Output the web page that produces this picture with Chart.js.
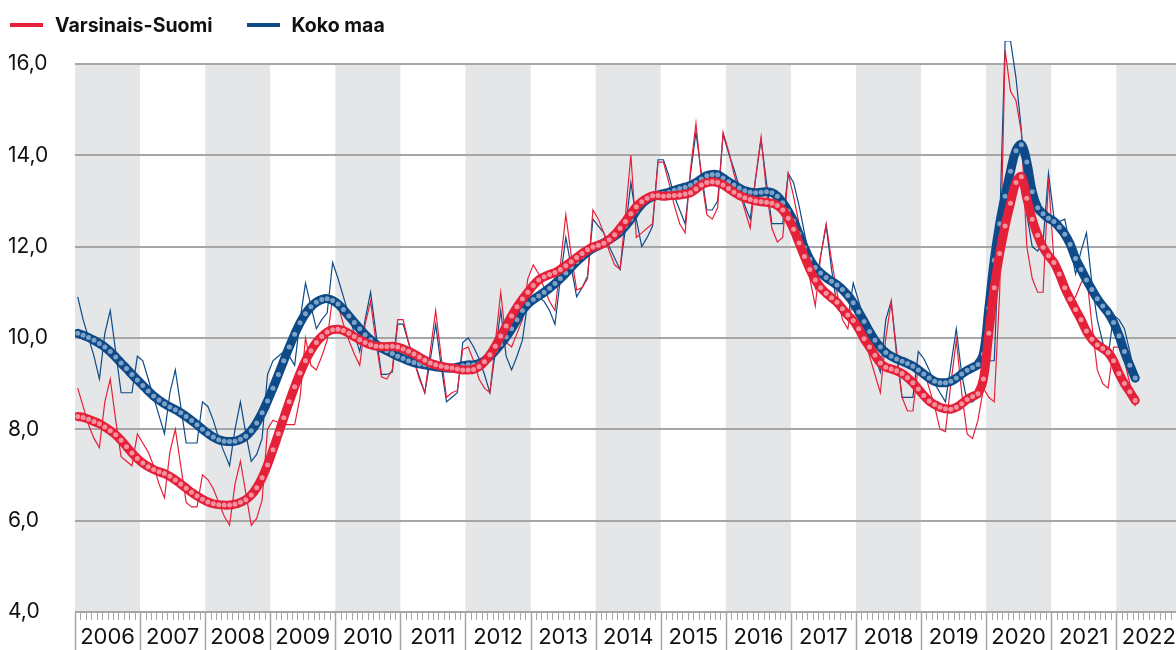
<!DOCTYPE html>
<html>
<head>
<meta charset="utf-8">
<script src="https://cdn.jsdelivr.net/npm/chart.js@4.4.1/dist/chart.umd.min.js"></script>
<style>
  html, body { margin: 0; padding: 0; background: #fff; overflow: hidden; }
  #wrap { position: relative; width: 1188px; height: 650px; }
  #legend { position: absolute; left: 10px; top: 13px; display: flex; align-items: center;
            white-space: nowrap; font: bold 19.5px Inter, "Liberation Sans", sans-serif; color: #111; }
  .item { display: flex; align-items: center; margin-right: 34px; }
  .swatch { display: inline-block; flex: 0 0 33px; width: 33px; height: 4px; margin-right: 12px; }
</style>
</head>
<body>
<div id="wrap">
  <canvas id="chart" width="1188" height="650"></canvas>
  <div id="legend"></div>
</div>
<script>
// monthly data, Jan 2006 .. Apr 2022
const years = ['2006','2007','2008','2009','2010','2011','2012','2013','2014',
               '2015','2016','2017','2018','2019','2020','2021','2022'];
const yTicks = [4, 6, 8, 10, 12, 14, 16];

// Varsinais-Suomi, monthly
const vsRaw = [
  8.9, 8.5, 8.1, 7.8, 7.6, 8.6, 9.1, 8.2, 7.4, 7.3, 7.2, 7.9,
  7.7, 7.5, 7.2, 6.8, 6.5, 7.5, 8.0, 7.2, 6.4, 6.3, 6.3, 7.0,
  6.9, 6.7, 6.4, 6.1, 5.9, 6.8, 7.3, 6.6, 5.9, 6.05, 6.45, 8.0,
  8.2, 8.15, 8.1, 8.1, 8.1, 8.7, 10.0, 9.4, 9.3, 9.6, 9.95, 10.9,
  10.7, 10.3, 9.95, 9.65, 9.4, 10.3, 10.8, 9.9, 9.15, 9.1, 9.3, 10.4,
  10.4, 9.9, 9.5, 9.1, 8.8, 9.7, 10.6, 9.6, 8.7, 8.8, 8.85, 9.75,
  9.8, 9.5, 9.1, 8.9, 8.8, 9.9, 11.0, 9.9, 9.8, 10.1, 10.4, 11.3,
  11.6, 11.4, 11.1, 10.8, 10.6, 11.6, 12.7, 11.8, 11.05, 11.1, 11.3, 12.8,
  12.6, 12.3, 11.9, 11.6, 11.5, 12.7, 14.0, 12.2, 12.3, 12.4, 12.5, 13.85,
  13.85, 13.4, 12.9, 12.5, 12.3, 13.7, 14.7, 13.5, 12.7, 12.6, 12.85, 14.5,
  14.1, 13.6, 13.2, 12.8, 12.4, 13.5, 14.4, 13.2, 12.4, 12.1, 12.2, 13.6,
  13.1, 12.5, 11.9, 11.3, 10.7, 11.8, 12.5, 11.7, 11.0, 10.4, 10.2, 10.9,
  10.6, 10.1, 9.6, 9.2, 8.8, 10.0, 10.8, 9.6, 8.7, 8.4, 8.4, 9.4,
  9.3, 8.9, 8.5, 8.0, 7.95, 9.0, 9.95, 8.8, 7.9, 7.8, 8.2, 8.9,
  8.7, 8.6, 11.0, 16.3, 15.4, 15.2, 14.5, 12.0, 11.3, 11.0, 11.0, 13.5,
  11.7, 11.3, 11.2, 10.8, 10.9, 11.2, 11.4, 10.3, 9.3, 9.0, 8.9, 9.8,
  9.8, 9.5, 9.0, 8.5
];
const vsTrend = [
  8.28, 8.26, 8.22, 8.17, 8.12, 8.05, 7.97, 7.88, 7.76, 7.62, 7.48, 7.36,
  7.26, 7.18, 7.12, 7.07, 7.03, 6.97, 6.89, 6.80, 6.71, 6.62, 6.54, 6.47,
  6.41, 6.37, 6.35, 6.34, 6.34, 6.36, 6.40, 6.46, 6.56, 6.72, 6.94, 7.22,
  7.55, 7.90, 8.25, 8.60, 8.93, 9.23, 9.50, 9.72, 9.90, 10.03, 10.13, 10.18,
  10.19, 10.16, 10.10, 10.03, 9.96, 9.90, 9.85, 9.82, 9.81, 9.81, 9.82, 9.80,
  9.76, 9.71, 9.65, 9.58, 9.51, 9.45, 9.41, 9.38, 9.36, 9.34, 9.32, 9.30,
  9.30, 9.31, 9.37, 9.48, 9.63, 9.82, 10.04, 10.26, 10.48, 10.68, 10.85, 11.00,
  11.15, 11.27, 11.34, 11.39, 11.43, 11.50, 11.58, 11.67, 11.76, 11.85, 11.93, 11.99,
  12.03, 12.07, 12.15, 12.26, 12.40, 12.55, 12.72, 12.87, 12.98, 13.06, 13.11, 13.12,
  13.10, 13.11, 13.12, 13.13, 13.15, 13.18, 13.26, 13.35, 13.40, 13.42, 13.40, 13.35,
  13.27, 13.19, 13.12, 13.07, 13.03, 13.00, 12.98, 12.97, 12.95, 12.90, 12.80, 12.62,
  12.38, 12.08, 11.78, 11.50, 11.27, 11.10, 10.98, 10.88, 10.78, 10.64, 10.50, 10.38,
  10.20, 9.98, 9.80, 9.62, 9.45, 9.36, 9.32, 9.28, 9.22, 9.13, 9.02, 8.88,
  8.74, 8.62, 8.54, 8.48, 8.45, 8.44, 8.48, 8.56, 8.65, 8.72, 8.78, 9.10,
  10.10, 11.10, 11.85, 12.45, 12.95, 13.40, 13.53, 13.06, 12.60, 12.25, 11.98, 11.80,
  11.65, 11.40, 11.10, 10.85, 10.62, 10.40, 10.15, 9.97, 9.85, 9.77, 9.68, 9.50,
  9.22, 9.00, 8.82, 8.63
];

// Koko maa, monthly
const kmRaw = [
  10.9, 10.4, 10.0, 9.6, 9.1, 10.1, 10.6, 9.7, 8.8, 8.8, 8.8, 9.6,
  9.5, 9.1, 8.7, 8.3, 7.9, 8.8, 9.3, 8.5, 7.7, 7.7, 7.7, 8.6,
  8.5, 8.2, 7.8, 7.5, 7.2, 8.0, 8.6, 7.9, 7.3, 7.45, 7.8, 9.2,
  9.5, 9.6, 9.7, 9.6, 9.4, 10.4, 11.2, 10.7, 10.2, 10.4, 10.55, 11.65,
  11.3, 10.9, 10.5, 10.1, 9.7, 10.4, 11.0, 10.1, 9.2, 9.2, 9.25, 10.3,
  10.3, 9.9, 9.5, 9.15, 8.8, 9.5, 10.3, 9.4, 8.6, 8.7, 8.8, 9.9,
  10.0, 9.8, 9.55, 9.2, 8.8, 9.7, 10.6, 9.6, 9.3, 9.6, 9.95, 10.8,
  10.9, 10.9, 10.8, 10.6, 10.3, 11.3, 12.2, 11.55, 10.9, 11.1, 11.35, 12.6,
  12.45, 12.3, 12.0, 11.75, 11.5, 12.4, 13.4, 12.6, 12.0, 12.2, 12.45, 13.9,
  13.9, 13.55, 13.1, 12.8, 12.5, 13.6, 14.5, 13.6, 12.8, 12.8, 13.0, 14.45,
  14.05, 13.7, 13.3, 12.9, 12.6, 13.5, 14.35, 13.4, 12.5, 12.5, 12.5, 13.6,
  13.4, 12.9, 12.3, 11.7, 11.1, 11.8, 12.45, 11.5, 10.7, 10.5, 10.4, 11.2,
  10.8, 10.4, 10.0, 9.6, 9.25, 10.4, 10.8, 9.7, 8.7, 8.7, 8.7, 9.7,
  9.55, 9.3, 9.0, 8.8, 8.6, 9.4, 10.2, 9.2, 8.6, 8.6, 8.7, 9.5,
  9.5, 9.5, 12.5, 16.5, 16.5, 15.7, 14.55, 12.7, 12.0, 11.9, 12.1, 13.6,
  12.65, 12.55, 12.6, 12.0, 11.4, 11.9, 12.3, 11.2, 10.4, 9.9, 9.6, 10.5,
  10.4, 10.2, 9.7, 9.1
];
const kmTrend = [
  10.10, 10.06, 10.01, 9.95, 9.88, 9.80, 9.70, 9.58, 9.45, 9.33, 9.20, 9.08,
  8.96, 8.84, 8.73, 8.64, 8.56, 8.49, 8.43, 8.36, 8.28, 8.19, 8.10, 8.00,
  7.91, 7.83, 7.77, 7.74, 7.73, 7.74, 7.78, 7.85, 7.97, 8.14, 8.36, 8.62,
  8.90, 9.20, 9.50, 9.80, 10.08, 10.33, 10.53, 10.68, 10.78, 10.84, 10.86, 10.82,
  10.74, 10.62, 10.48, 10.34, 10.20, 10.07, 9.96, 9.86, 9.78, 9.72, 9.66, 9.60,
  9.55, 9.50, 9.46, 9.43, 9.41, 9.39, 9.37, 9.35, 9.34, 9.34, 9.36, 9.39,
  9.41, 9.41, 9.44, 9.50, 9.60, 9.72, 9.86, 10.02, 10.20, 10.40, 10.60, 10.74,
  10.84, 10.92, 11.00, 11.09, 11.19, 11.30, 11.42, 11.55, 11.67, 11.78, 11.88, 11.96,
  12.02, 12.08, 12.15, 12.23, 12.32, 12.45, 12.60, 12.78, 12.93, 13.03, 13.09, 13.13,
  13.16, 13.19, 13.23, 13.27, 13.30, 13.34, 13.40, 13.48, 13.55, 13.58, 13.57, 13.50,
  13.42, 13.35, 13.28, 13.22, 13.19, 13.18, 13.19, 13.20, 13.18, 13.10, 12.96, 12.78,
  12.56, 12.28, 11.98, 11.72, 11.54, 11.42, 11.32, 11.24, 11.16, 11.06, 10.93, 10.77,
  10.57, 10.36, 10.14, 9.95, 9.80, 9.68, 9.60, 9.54, 9.49, 9.44, 9.38, 9.30,
  9.21, 9.12, 9.05, 9.02, 9.02, 9.05, 9.12, 9.21, 9.29, 9.35, 9.42, 9.65,
  10.65, 11.70, 12.50, 13.10, 13.65, 14.10, 14.23, 13.85, 13.20, 12.85, 12.72, 12.62,
  12.55, 12.42, 12.27, 12.05, 11.74, 11.50, 11.27, 11.06, 10.86, 10.70, 10.55, 10.34,
  10.05, 9.70, 9.40, 9.12
];

const RED = '#e5213a', RED_DOT = '#f4919e';
const BLUE = '#0d4a87', BLUE_DOT = '#7da2c8';
const GRID = '#a6a6a6', BAND = '#e5e6e8';

// points sit in the middle of each month
const xy = arr => arr.map((v, i) => ({ x: i + 0.5, y: v }));

// html legend
document.getElementById('legend').innerHTML =
  [['Varsinais-Suomi', RED], ['Koko maa', BLUE]].map(([t, c]) =>
    `<span class="item"><span class="swatch" style="background:${c}"></span>${t}</span>`).join('');

// grey bands on every other year
const bands = {
  id: 'bands',
  beforeDraw(chart) {
    const { ctx, scales: { x, y } } = chart;
    ctx.save();
    ctx.fillStyle = BAND;
    const top = y.getPixelForValue(16), bottom = y.getPixelForValue(4);
    years.forEach((yr, i) => {
      if (i % 2) return;
      const x0 = x.getPixelForValue(i * 12);
      const x1 = Math.min(x.getPixelForValue(i * 12 + 12), chart.chartArea.right);
      ctx.fillRect(x0, top, x1 - x0, bottom - top);
    });
    ctx.restore();
  }
};

// month ticks and year separators under the axis
const monthTicks = {
  id: 'monthTicks',
  afterDraw(chart) {
    const { ctx, scales: { x, y } } = chart;
    const base = y.getPixelForValue(4);
    ctx.save();
    ctx.strokeStyle = GRID;
    for (let m = 0; m <= x.max; m++) {
      const px = Math.round(x.getPixelForValue(m)) + 0.5;
      ctx.beginPath();
      if (m % 12 === 0) {
        ctx.lineWidth = 1.5;
        ctx.moveTo(px, base);
        ctx.lineTo(px, chart.height);
      } else {
        ctx.lineWidth = 1;
        ctx.moveTo(px, base + 1);
        ctx.lineTo(px, base + 8);
      }
      ctx.stroke();
    }
    ctx.restore();
  }
};

new Chart(document.getElementById('chart'), {
  type: 'line',
  data: {
    datasets: [
      { label: 'Varsinais-Suomi trend', data: xy(vsTrend), borderColor: RED, borderWidth: 9,
        borderCapStyle: 'round', tension: 0.4, pointRadius: 2.5, pointBorderWidth: 0,
        pointBackgroundColor: RED_DOT, order: 1 },
      { label: 'Koko maa trend', data: xy(kmTrend), borderColor: BLUE, borderWidth: 9,
        borderCapStyle: 'round', tension: 0.4, pointRadius: 2.5, pointBorderWidth: 0,
        pointBackgroundColor: BLUE_DOT, order: 2 },
      { label: 'Varsinais-Suomi', data: xy(vsRaw), borderColor: RED, borderWidth: 1.2,
        tension: 0, pointRadius: 0, order: 3 },
      { label: 'Koko maa', data: xy(kmRaw), borderColor: BLUE, borderWidth: 1.2,
        tension: 0, pointRadius: 0, order: 4 }
    ]
  },
  options: {
    responsive: false,
    animation: false,
    devicePixelRatio: 1,
    layout: { padding: { top: 41, left: 8, right: 0, bottom: 0 } },
    plugins: { legend: { display: false }, tooltip: { enabled: false } },
    scales: {
      x: {
        type: 'linear', min: 0, max: 204,
        grid: { display: false, drawTicks: false },
        border: { display: false },
        afterBuildTicks: s => { s.ticks = years.map((yr, i) => ({ value: i * 12 + 6 })); },
        afterFit: s => { s.height = 38; },
        ticks: {
          autoSkip: false, maxRotation: 0, padding: 12, color: '#111',
          font: { family: 'Inter, "Liberation Sans", sans-serif', size: 22 },
          callback: (v, i) => years[i]
        }
      },
      y: {
        min: 4, max: 16.5,
        grid: { color: GRID, lineWidth: 2, drawTicks: false },
        border: { display: false },
        afterBuildTicks: s => { s.ticks = yTicks.map(v => ({ value: v })); },
        afterFit: s => { s.width = 67; },
        ticks: {
          crossAlign: 'far', padding: 0, color: '#111',
          font: { family: 'Inter, "Liberation Sans", sans-serif', size: 21 },
          callback: v => v.toFixed(1).replace('.', ',')
        }
      }
    }
  },
  plugins: [bands, monthTicks]
});
</script>
</body>
</html>
